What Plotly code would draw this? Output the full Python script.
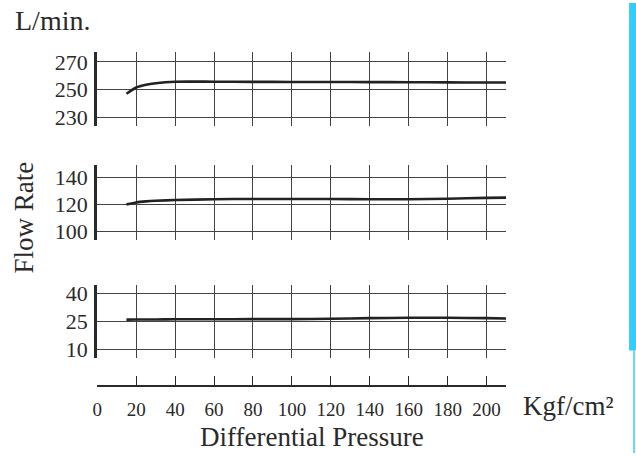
import plotly.graph_objects as go

pressure = [15, 20, 25, 30, 40, 60, 80, 100, 120, 140, 160, 180, 200, 210]
flow_high = [247, 251.5, 253.5, 254.6, 255.7, 255.7, 255.6, 255.5, 255.5, 255.4, 255.3, 255.2, 255.1, 255.1]
flow_mid = [120, 121.4, 122.2, 122.7, 123.2, 123.8, 124.0, 124.0, 124.0, 123.8, 123.8, 124.2, 124.8, 125.0]
flow_low = [26.0, 26.1, 26.1, 26.1, 26.2, 26.2, 26.3, 26.3, 26.5, 26.8, 27.0, 27.0, 26.8, 26.6]

x_ticks = [0, 20, 40, 60, 80, 100, 120, 140, 160, 180, 200]
high_ticks = [230, 250, 270]
mid_ticks = [100, 120, 140]
low_ticks = [10, 25, 40]

W, H = 636, 457
def py(p):
    return 1 - p / H

FONT = "Liberation Serif, Times New Roman, serif"
INK = "#2a2a2a"
GRID = "#444444"

fig = go.Figure()
series = [(flow_high, "x", "y"), (flow_mid, "x2", "y2"), (flow_low, "x3", "y3")]
for vals, xa, ya in series:
    fig.add_trace(go.Scatter(x=pressure, y=vals, xaxis=xa, yaxis=ya, mode="lines",
                             line=dict(color="#222222", width=2.6, shape="spline", smoothing=0.6),
                             showlegend=False, hoverinfo="skip"))

xdom = [93 / W, 505 / W]
common_x = dict(domain=xdom, range=[0, 210], tickvals=x_ticks[1:], showgrid=True,
                gridcolor=GRID, gridwidth=1, zeroline=False, showticklabels=False,
                ticks="", showline=False)

def yax(dom, rng, tv):
    return dict(domain=dom, range=rng, tickvals=tv, showgrid=True, gridcolor=GRID, gridwidth=1,
                zeroline=False, showline=True, linecolor=INK, linewidth=3, ticks="",
                tickfont=dict(family=FONT, size=22, color=INK), ticklabelstandoff=2)

fig.update_layout(
    width=W, height=H,
    margin=dict(l=0, r=0, t=0, b=0),
    paper_bgcolor="white", plot_bgcolor="white",
    font=dict(family=FONT, color=INK),
    xaxis=dict(**common_x, anchor="y"),
    xaxis2=dict(**common_x, anchor="y2"),
    xaxis3=dict(domain=xdom, range=[0, 210], tickvals=x_ticks, showgrid=True,
                gridcolor=GRID, gridwidth=1, zeroline=False, anchor="free",
                position=py(389), showline=True, linecolor=INK, linewidth=2,
                ticks="inside", ticklen=9, tickwidth=1.2, tickcolor=INK,
                tickfont=dict(family=FONT, size=19, color=INK), ticklabelstandoff=6),
    yaxis=yax([py(125), py(50)], [223.6, 277], high_ticks),
    yaxis2=yax([py(241), py(165)], [93.5, 148.7], mid_ticks),
    yaxis3=yax([py(361), py(286)], [5.3, 44.7], low_ticks),
)

fig.add_annotation(text="L/min.", xref="paper", yref="paper", x=8 / W, y=py(18),
                   xanchor="left", yanchor="middle", showarrow=False,
                   font=dict(family=FONT, size=28, color=INK))
fig.add_annotation(text="Flow Rate", xref="paper", yref="paper", x=19 / W, y=py(218),
                   xanchor="center", yanchor="middle", textangle=-90, showarrow=False,
                   font=dict(family=FONT, size=27, color=INK))
fig.add_annotation(text="Kgf/cm²", xref="paper", yref="paper", x=520 / W, y=py(409),
                   xanchor="left", yanchor="middle", showarrow=False,
                   font=dict(family=FONT, size=27, color=INK))
fig.add_annotation(text="Differential Pressure", xref="paper", yref="paper", x=309 / W, y=py(441),
                   xanchor="center", yanchor="middle", showarrow=False,
                   font=dict(family=FONT, size=27, color=INK))

fig.add_shape(type="rect", xref="paper", yref="paper", x0=629 / W, x1=1, y0=py(353), y1=1,
              fillcolor="#33CCFF", line=dict(width=0), layer="above")
fig.add_shape(type="line", xref="paper", yref="paper", x0=634 / W, x1=634 / W, y0=0, y1=py(353),
              line=dict(color="#33CCFF", width=1.5), layer="above")

fig.write_html("out.html", config={"displayModeBar": False},
               post_script="document.body.style.margin='0px';document.body.style.overflow='hidden';")
